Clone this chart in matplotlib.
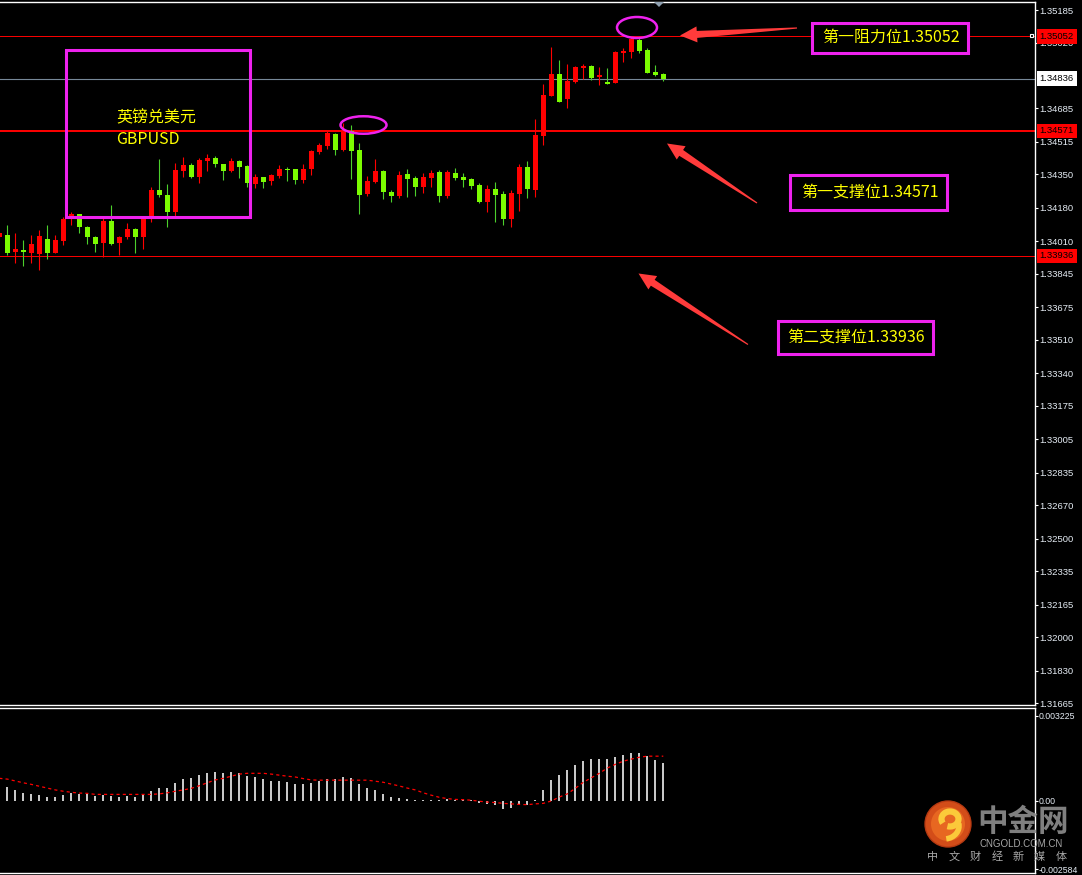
import matplotlib
matplotlib.use("Agg")
import matplotlib.pyplot as plt
import matplotlib.transforms as mtransforms
from matplotlib.patches import Rectangle, Ellipse, Polygon, Circle, Arc
import numpy as np

plt.rcParams["font.family"] = ["Liberation Sans", "Noto Sans CJK SC", "DejaVu Sans"]

# GBPUSD candles (oldest first)
opens = [1.34031, 1.34042, 1.33957, 1.33966, 1.33952, 1.33946, 1.34022, 1.33952, 1.34013, 1.34122,
         1.34147, 1.34081, 1.34031, 1.34000, 1.34113, 1.34000, 1.34031, 1.34073, 1.34034, 1.34135,
         1.34271, 1.34245, 1.34161, 1.34367, 1.34398, 1.34335, 1.34418, 1.34432, 1.34401, 1.34367,
         1.34418, 1.34393, 1.34301, 1.34335, 1.34318, 1.34342, 1.34376, 1.34376, 1.34322, 1.34378,
         1.34465, 1.34494, 1.34555, 1.34474, 1.34572, 1.34474, 1.34251, 1.34313, 1.34367, 1.34261,
         1.34240, 1.34351, 1.34330, 1.34285, 1.34333, 1.34362, 1.34242, 1.34357, 1.34337, 1.34327,
         1.34296, 1.34211, 1.34276, 1.34251, 1.34124, 1.34252, 1.34388, 1.34271, 1.34545, 1.34750,
         1.34860, 1.34733, 1.34818, 1.34892, 1.34901, 1.34843, 1.34821, 1.34816, 1.34965, 1.34973,
         1.35033, 1.34982, 1.34872, 1.34862]
highs = [1.34057, 1.34093, 1.34051, 1.34017, 1.34042, 1.34068, 1.34093, 1.34042, 1.34135, 1.34158,
         1.34150, 1.34088, 1.34037, 1.34135, 1.34195, 1.34037, 1.34103, 1.34076, 1.34137, 1.34285,
         1.34428, 1.34301, 1.34410, 1.34440, 1.34406, 1.34432, 1.34454, 1.34444, 1.34404, 1.34435,
         1.34421, 1.34396, 1.34352, 1.34338, 1.34350, 1.34398, 1.34389, 1.34379, 1.34403, 1.34472,
         1.34508, 1.34571, 1.34558, 1.34610, 1.34601, 1.34508, 1.34342, 1.34428, 1.34372, 1.34271,
         1.34367, 1.34378, 1.34342, 1.34356, 1.34372, 1.34372, 1.34372, 1.34382, 1.34357, 1.34332,
         1.34305, 1.34296, 1.34311, 1.34266, 1.34271, 1.34403, 1.34418, 1.34632, 1.34809, 1.34997,
         1.34931, 1.34911, 1.34899, 1.34909, 1.34904, 1.34897, 1.34892, 1.34977, 1.34991, 1.35052,
         1.35048, 1.34991, 1.34906, 1.34864]
lows = [1.34027, 1.33941, 1.33901, 1.33885, 1.33901, 1.33864, 1.33919, 1.33950, 1.33991, 1.34093,
        1.34051, 1.33996, 1.33957, 1.33929, 1.33993, 1.33941, 1.34020, 1.33952, 1.33971, 1.34110,
        1.34237, 1.34084, 1.34135, 1.34338, 1.34333, 1.34308, 1.34369, 1.34389, 1.34322, 1.34364,
        1.34333, 1.34285, 1.34279, 1.34283, 1.34296, 1.34330, 1.34318, 1.34301, 1.34308, 1.34347,
        1.34454, 1.34479, 1.34449, 1.34469, 1.34327, 1.34149, 1.34240, 1.34308, 1.34225, 1.34211,
        1.34232, 1.34237, 1.34242, 1.34257, 1.34288, 1.34211, 1.34232, 1.34322, 1.34288, 1.34276,
        1.34203, 1.34161, 1.34110, 1.34093, 1.34084, 1.34164, 1.34232, 1.34237, 1.34499, 1.34747,
        1.34716, 1.34689, 1.34813, 1.34835, 1.34830, 1.34804, 1.34807, 1.34813, 1.34920, 1.34941,
        1.34968, 1.34864, 1.34851, 1.34826]
closes = [1.34051, 1.33952, 1.33971, 1.33956, 1.33996, 1.34037, 1.33952, 1.34017, 1.34124, 1.34149,
          1.34084, 1.34031, 1.33996, 1.34113, 1.33995, 1.34032, 1.34073, 1.34034, 1.34135, 1.34271,
          1.34245, 1.34161, 1.34372, 1.34398, 1.34335, 1.34423, 1.34432, 1.34401, 1.34367, 1.34418,
          1.34389, 1.34305, 1.34338, 1.34313, 1.34347, 1.34376, 1.34372, 1.34322, 1.34378, 1.34469,
          1.34499, 1.34559, 1.34474, 1.34576, 1.34470, 1.34245, 1.34318, 1.34367, 1.34262, 1.34242,
          1.34347, 1.34327, 1.34288, 1.34338, 1.34359, 1.34240, 1.34364, 1.34333, 1.34323, 1.34293,
          1.34211, 1.34276, 1.34247, 1.34124, 1.34256, 1.34388, 1.34276, 1.34550, 1.34753, 1.34860,
          1.34719, 1.34825, 1.34896, 1.34902, 1.34838, 1.34855, 1.34809, 1.34972, 1.34978, 1.35038,
          1.34978, 1.34867, 1.34855, 1.34836]

# MACD sub window
macd_hist = [0.00055, 0.00052, 0.00042, 0.00030, 0.00027, 0.00023, 0.00015, 0.00015, 0.00023, 0.00030,
             0.00027, 0.00027, 0.00019, 0.00023, 0.00019, 0.00015, 0.00019, 0.00015, 0.00023, 0.00038,
             0.00049, 0.00049, 0.00068, 0.00083, 0.00087, 0.00099, 0.00106, 0.00110, 0.00106, 0.00110,
             0.00106, 0.00095, 0.00091, 0.00083, 0.00076, 0.00076, 0.00072, 0.00064, 0.00064, 0.00068,
             0.00076, 0.00083, 0.00083, 0.00091, 0.00087, 0.00064, 0.00049, 0.00042, 0.00027, 0.00015,
             0.00011, 0.00008, 0.00004, 0.00004, 0.00004, 0.00004, 0.00006, 0.00002, 0.00006, 0.00004,
             -0.00009, -0.00011, -0.00015, -0.00030, -0.00027, -0.00015, -0.00015, 0.00002, 0.00042, 0.00080,
             0.00099, 0.00118, 0.00137, 0.00152, 0.00159, 0.00159, 0.00159, 0.00167, 0.00175, 0.00182,
             0.00182, 0.00171, 0.00156, 0.00144]
macd_signal = [0.00086, 0.00083, 0.00076, 0.00069, 0.00063, 0.00056, 0.00049, 0.00042, 0.00037, 0.00033,
               0.00030, 0.00029, 0.00025, 0.00025, 0.00025, 0.00025, 0.00025, 0.00025, 0.00025, 0.00025,
               0.00027, 0.00031, 0.00037, 0.00042, 0.00048, 0.00058, 0.00069, 0.00080, 0.00086, 0.00094,
               0.00102, 0.00105, 0.00105, 0.00105, 0.00102, 0.00098, 0.00094, 0.00091, 0.00085, 0.00080,
               0.00079, 0.00079, 0.00079, 0.00079, 0.00079, 0.00079, 0.00079, 0.00075, 0.00071, 0.00064,
               0.00057, 0.00049, 0.00042, 0.00031, 0.00022, 0.00014, 0.00009, 0.00006, 0.00005, 0.00003,
               -0.00001, -0.00004, -0.00006, -0.00009, -0.00011, -0.00013, -0.00014, -0.00011, -0.00009, 0.00000,
               0.00015, 0.00027, 0.00048, 0.00071, 0.00088, 0.00105, 0.00125, 0.00139, 0.00151, 0.00159,
               0.00166, 0.00170, 0.00170, 0.00170]

price_ticks = [1.35185, 1.35020, 1.34685, 1.34515, 1.34350, 1.34180, 1.34010, 1.33845, 1.33675,
               1.33510, 1.33340, 1.33175, 1.33005, 1.32835, 1.32670, 1.32500, 1.32335, 1.32165,
               1.32000, 1.31830, 1.31665]
resistance = 1.35052
support_1 = 1.34571
support_2 = 1.33936
bid_price = 1.34836
macd_ticks = [0.003225, 0.0, -0.002584]
macd_tick_labels = ["0.003225", "0.00", "-0.002584"]

W, H = 1082, 875
UP = "#ff0000"
DOWN = "#7cfc00"
DOWN_WICK = "#4cd02c"
AXIS_TXT = "#e6edf5"
MAGENTA = "#ee22ee"
YELLOW = "#ffff00"
ARROW = "#ff3b3b"
CJK = ["Noto Sans CJK SC", "DejaVu Sans"]

fig = plt.figure(figsize=(W / 100, H / 100), dpi=100, facecolor="black")


def px_box(x0, y0, x1, y1):
    return [x0 / W, 1 - y1 / H, (x1 - x0) / W, (y1 - y0) / H]


ax = fig.add_axes(px_box(0, 1.5, 1034.5, 705), facecolor="black")
ax2 = fig.add_axes(px_box(0, 707.5, 1034.5, 873), facecolor="black")

x = np.arange(len(opens))
o, h, l, c = (np.array(v) for v in (opens, highs, lows, closes))
up = c > o

# candles
ax.vlines(x, l, h, colors=np.where(up, UP, DOWN_WICK), lw=0.8, zorder=3)
body_lo = np.minimum(o, c)
body_h = np.maximum(np.abs(c - o), 0.00004)
ax.bar(x, body_h, bottom=body_lo, width=0.62, color=np.where(up, UP, DOWN),
       linewidth=0, zorder=4)

ax.axhline(resistance, color="#ff0000", lw=0.7, zorder=2)
ax.axhline(support_1, color="#ff0000", lw=1.4, zorder=2)
ax.axhline(support_2, color="#ff0000", lw=0.7, zorder=2)
ax.axhline(bid_price, color="#778899", lw=0.8, zorder=2)

ax.set_xlim(0.0875, 129.4)
ax.set_ylim(1.31655, 1.352284)
ax.set_xticks([])
ax.yaxis.tick_right()
ax.set_yticks(price_ticks)
ax.set_yticklabels([f"{t:.5f}" for t in price_ticks])

trans = mtransforms.blended_transform_factory(ax.transAxes, ax.transData)
for p, fc in [(resistance, "#ff0000"), (support_1, "#ff0000"), (support_2, "#ff0000"),
              (bid_price, "white")]:
    ax.text(1.005, p, f"{p:.5f}", transform=trans, ha="left", va="center",
            fontsize=6.8, color="black", clip_on=False, zorder=6,
            bbox=dict(boxstyle="square,pad=0.3", fc=fc, ec="none"))

# MACD
ax2.bar(x, macd_hist, width=0.25, color="#c8c8c8", linewidth=0)
ax2.plot(x, macd_signal, color="#ff0000", lw=0.9, dashes=(2.5, 2.5))
ax2.set_xlim(0.0875, 129.4)
ax2.set_ylim(-0.002732, 0.003547)
ax2.set_xticks([])
ax2.yaxis.tick_right()
ax2.set_yticks(macd_ticks)
ax2.set_yticklabels(macd_tick_labels)

for a, size, pad in ((ax, 6.8, 1.6), (ax2, 6.3, 1.0)):
    a.spines["left"].set_visible(False)
    for s in ("top", "right", "bottom"):
        a.spines[s].set_color("white")
        a.spines[s].set_linewidth(1.0)
    a.tick_params(axis="y", colors="white", labelcolor=AXIS_TXT, labelsize=size,
                  length=2.2, width=0.8, pad=pad, direction="out")

# overlay in pixel coordinates for the hand drawn annotations
ov = fig.add_axes([0, 0, 1, 1], facecolor="none")
ov.set_xlim(0, W)
ov.set_ylim(H, 0)
ov.axis("off")


def tapered_arrow(tail, tip, head_len=17, head_half=8, neck_half=3.5, tail_half=0.6):
    t = np.array(tail, float)
    p = np.array(tip, float)
    d = (p - t) / np.hypot(*(p - t))
    n = np.array([-d[1], d[0]])
    b = p - d * head_len
    pts = [t + n * tail_half, b + n * neck_half, b + n * head_half, p,
           b - n * head_half, b - n * neck_half, t - n * tail_half]
    ov.add_patch(Polygon(pts, closed=True, fc=ARROW, ec="none", zorder=5))


ov.add_patch(Rectangle((65.5, 49.5), 184, 167, fill=False, ec=MAGENTA, lw=2.2))
ov.text(116, 118, "英镑兑美元", color=YELLOW, fontsize=11.5, va="center", family=CJK)
ov.text(116, 140, "GBPUSD", color=YELLOW, fontsize=11.5, va="center", family=CJK)

ov.add_patch(Ellipse((363.5, 125), 46, 17.5, fill=False, ec=MAGENTA, lw=1.8))
ov.add_patch(Ellipse((637, 27.5), 40, 21, fill=False, ec=MAGENTA, lw=1.8))

boxes = [
    ((811.5, 22.5, 967.5, 52.5), (822, 37), f"第一阻力位{resistance:.5f}"),
    ((789.5, 174.5, 946.5, 209.5), (801, 192), f"第一支撑位{support_1:.5f}"),
    ((777.5, 320.5, 932.5, 353.5), (787, 337), f"第二支撑位{support_2:.5f}"),
]
for (x0, y0, x1, y1), (tx, ty), label in boxes:
    ov.add_patch(Rectangle((x0, y0), x1 - x0, y1 - y0, fc="black", ec=MAGENTA, lw=2.2, zorder=4))
    ov.text(tx, ty, label, color=YELLOW, fontsize=11.5, va="center", family=CJK, zorder=5)

tapered_arrow((797, 28), (680, 35.5))
tapered_arrow((757, 203), (667, 143.5))
tapered_arrow((748, 344.5), (638.5, 273.5))

# shift marker and line-end marker
ov.add_patch(Polygon([(654, 2), (664, 2), (659, 7)], closed=True, fc="#8fa0b0", ec="none", zorder=7))
ov.add_patch(Rectangle((1029.5, 33.5), 3.5, 3.5, fc="black", ec="white", lw=0.8, zorder=6))

# watermark logo
ov.add_patch(Circle((948, 824), 23, fc="#e0521b", ec="#b83a12", lw=1.0, alpha=0.95))
ov.add_patch(Circle((948, 824), 17, fc="#ea6a22", ec="none", alpha=0.9))
ov.add_patch(Arc((950, 819), 17, 15, theta1=150, theta2=470, color="#fbc93a", lw=4.5))
ov.add_patch(Arc((944, 826), 30, 26, theta1=-10, theta2=80, color="#fbc93a", lw=4.0))
ov.text(977, 822, "中金网", fontsize=22, fontweight="bold", color="#8e8e8e", va="center",
        family=CJK, alpha=0.9)
ov.text(1021.5, 844, "CNGOLD.COM.CN", fontsize=7, color="#a8a8a8", ha="center", va="center")
for k, ch in enumerate("中文财经新媒体"):
    ov.text(933 + k * 21.3, 857, ch, fontsize=8, color="#a8a8a8", ha="center", va="center",
            family=CJK)

fig.savefig("out.png", dpi=100, facecolor="black")
